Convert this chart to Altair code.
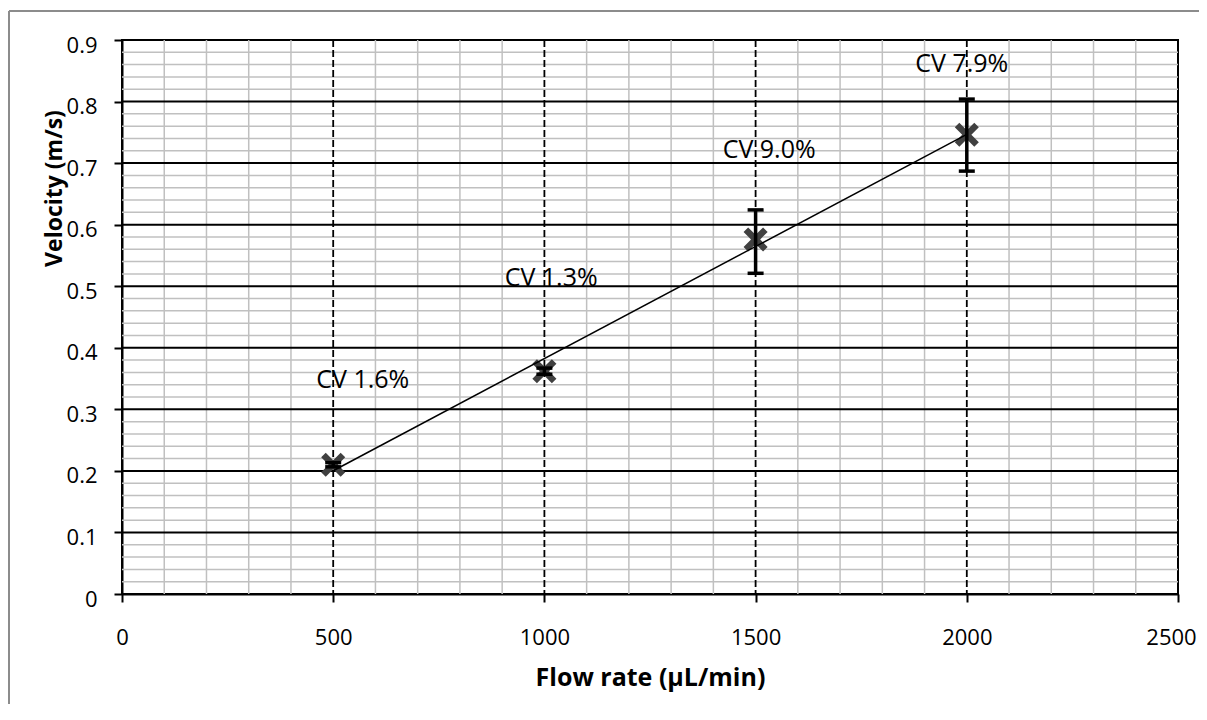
import altair as alt
import pandas as pd

# Data
flow_rate = [500, 1000, 1500, 2000]
velocity = [0.210, 0.362, 0.576, 0.746]
err_low = [0.2066, 0.357, 0.521, 0.687]
err_high = [0.2134, 0.367, 0.624, 0.804]
cv_labels = ["CV 1.6%", "CV 1.3%", "CV 9.0%", "CV 7.9%"]
label_x = [570, 1016, 1532, 1988]
label_y = [0.348, 0.513, 0.721, 0.861]

x_ticks = [0, 500, 1000, 1500, 2000, 2500]
y_ticks = [0, 0.1, 0.2, 0.3, 0.4, 0.5, 0.6, 0.7, 0.8, 0.9]
major_x_grid = [500, 1000, 1500, 2000]
major_y_grid = [0.1, 0.2, 0.3, 0.4, 0.5, 0.6, 0.7, 0.8]
minor_x_grid = [v for v in range(100, 2500, 100) if v % 500]
minor_y_grid = [round(i * 0.02, 2) for i in range(1, 45) if i % 5]

FONT = "Open Sans"

df = pd.DataFrame({"x": flow_rate, "y": velocity, "lo": err_low, "hi": err_high})
labels_df = pd.DataFrame({"x": label_x, "y": label_y, "t": cv_labels})

xs = alt.Scale(domain=[0, 2500], nice=False, zero=False)
ys = alt.Scale(domain=[0, 0.9], nice=False, zero=False)

x_axis = alt.Axis(
    values=x_ticks, grid=False, tickSize=8, tickColor="black", tickWidth=2,
    domainColor="black", domainWidth=2, labelFont=FONT, labelFontSize=22,
    labelColor="black", labelPadding=25, format="d",
    labelOffset={"condition": {"test": "datum.value == 2500", "value": -7}, "value": 0},
    titleFont=FONT, titleFontSize=25,
    titleFontWeight="bold", titleColor="black", titleX=528, titleY=83,
    titleBaseline="middle", titleAlign="center", labelFlush=False,
)
y_axis = alt.Axis(
    values=y_ticks, grid=False, tickSize=8, tickColor="black", tickWidth=2,
    domainColor="black", domainWidth=2, labelFont=FONT, labelFontSize=22,
    labelColor="black", labelPadding=17, labelOffset=5, format="~g",
    titleFont=FONT, titleFontSize=23,
    titleFontWeight="bold", titleColor="black", titleX=-68, titleY=148,
    titleAngle=-90, titleBaseline="middle", titleAlign="center", labelFlush=False,
)
X_TITLE = "Flow rate (µL/min)"
Y_TITLE = "Velocity (m/s)"


def X(field):
    return alt.X(field, type="quantitative", scale=xs, axis=x_axis, title=X_TITLE)


def Y(field):
    return alt.Y(field, type="quantitative", scale=ys, axis=y_axis, title=Y_TITLE)


minor_v = alt.Chart(pd.DataFrame({"x": minor_x_grid})).mark_rule(
    color="#c0c0c0", strokeWidth=1.5
).encode(x=X("x"))

minor_h = alt.Chart(pd.DataFrame({"y": minor_y_grid})).mark_rule(
    color="#c0c0c0", strokeWidth=1.5
).encode(y=Y("y"))

major_h = alt.Chart(pd.DataFrame({"y": major_y_grid})).mark_rule(
    color="black", strokeWidth=2
).encode(y=Y("y"))

major_v = alt.Chart(pd.DataFrame({"x": major_x_grid})).mark_rule(
    color="black", strokeWidth=1.8, strokeDash=[7, 3]
).encode(x=X("x"))

base = alt.Chart(df)

x_shape = "M-1,-0.62 L-0.62,-1 L0,-0.38 L0.62,-1 L1,-0.62 L0.38,0 L1,0.62 L0.62,1 L0,0.38 L-0.62,1 L-1,0.62 L-0.38,0 Z"

points = base.mark_point(
    shape=x_shape, filled=True, color="#404040", size=580, opacity=1
).encode(x=X("x"), y=Y("y"))

err_rule = base.mark_rule(color="black", strokeWidth=3.5).encode(
    x=X("x"), y=Y("lo"), y2="hi:Q"
)
cap_lo = base.mark_tick(color="black", orient="horizontal", size=16, thickness=3.5, opacity=1).encode(
    x=X("x"), y=Y("lo")
)
cap_hi = base.mark_tick(color="black", orient="horizontal", size=16, thickness=3.5, opacity=1).encode(
    x=X("x"), y=Y("hi")
)

trend = base.transform_regression("x", "y", extent=[500, 2000]).mark_line(
    color="black", strokeWidth=1.5
).encode(x=X("x"), y=Y("y"))

texts = alt.Chart(labels_df).mark_text(
    font=FONT, fontSize=25, color="black", align="center", baseline="middle"
).encode(x=X("x"), y=Y("y"), text="t:N")

one = pd.DataFrame({"k": [0]})
border_v = alt.Chart(one).mark_rule(color="#8c8c8c", strokeWidth=2).encode(
    x=alt.value(-113), y=alt.value(-29), y2=alt.value(700)
)
border_h = alt.Chart(one).mark_rule(color="#8c8c8c", strokeWidth=2).encode(
    x=alt.value(-113), x2=alt.value(1100), y=alt.value(-29)
)

chart = alt.layer(
    minor_v, minor_h, major_h, major_v, points, err_rule, cap_lo, cap_hi,
    trend, texts, border_v, border_h
).properties(
    width=1056, height=554,
    autosize=alt.AutoSizeParams(type="none"),
    padding={"left": 114, "top": 32, "right": 21, "bottom": 110},
).configure(
    background="white",
    view=alt.ViewConfig(stroke="black", strokeWidth=2),
)

chart.save("out.html", embed_options={"renderer": "svg", "actions": False})
